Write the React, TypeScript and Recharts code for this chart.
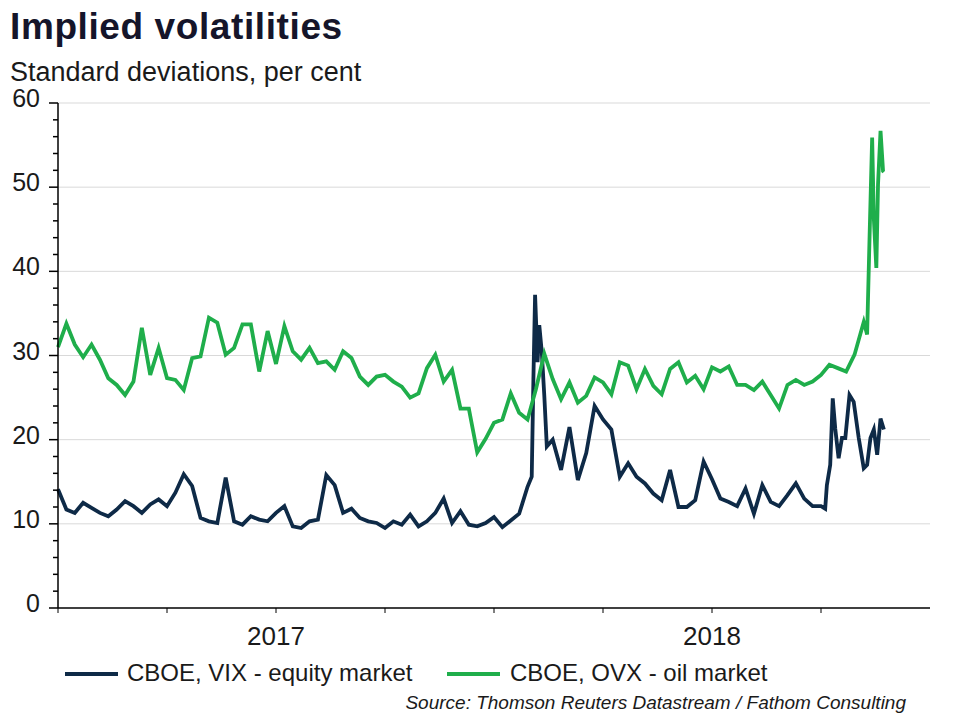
import React from 'react';
import { LineChart, Line, XAxis, YAxis, CartesianGrid } from 'recharts';

// x values are weeks since the start of 2017; the axis spans two years (104 weeks)
const vixWeeks = [
  0, 1, 2, 3, 4, 5, 6, 7, 8, 9, 10, 11, 12, 13, 14, 15, 16, 17, 18, 19, 20,
  21, 22, 23, 24, 25, 26, 27, 28, 29, 30, 31, 32, 33, 34, 35, 36, 37, 38, 39, 40,
  41, 42, 43, 44, 45, 46, 47, 48, 49, 50, 51, 52, 53, 54, 55, 56, 56.5, 56.7, 56.9,
  57.2, 57.4, 57.7, 58, 58.3, 59, 60, 61, 62, 63, 64, 65, 66, 67, 68, 69, 70, 71, 72,
  73, 74, 75, 76, 77, 78, 79, 80, 81, 82, 83, 84, 85, 86, 87, 88, 89, 90, 91, 91.5,
  91.7, 92.1, 92.4, 92.7, 93.1, 93.5, 93.9, 94.4, 94.9, 95.5, 96.1, 96.5, 96.9, 97.3,
  97.7, 98.1, 98.5,
];
const vix = [
  14.1, 11.7, 11.3, 12.5, 11.9, 11.3, 10.9, 11.7, 12.7, 12.1, 11.3, 12.3, 12.9, 12.1, 13.7, 15.9, 14.5, 10.7, 10.3, 10.1, 15.5,
  10.3, 9.9, 10.9, 10.5, 10.3, 11.3, 12.1, 9.7, 9.5, 10.3, 10.5, 15.8, 14.6, 11.3, 11.8, 10.7, 10.3, 10.1, 9.5, 10.3,
  9.9, 11.1, 9.7, 10.3, 11.3, 13.0, 10.1, 11.5, 9.9, 9.7, 10.1, 10.8, 9.6, 10.4, 11.2, 14.4, 15.6, 27.2, 37.2,
  29.2, 33.6, 30.4, 25.2, 19.2, 20.0, 16.4, 21.5, 15.2, 18.4, 24.0, 22.4, 21.2, 15.6, 17.2, 15.6, 14.8, 13.6, 12.8,
  16.4, 12.0, 12.0, 12.8, 17.4, 15.3, 13.0, 12.6, 12.1, 14.2, 11.2, 14.6, 12.6, 12.1, 13.4, 14.8, 13.0, 12.1, 12.1, 11.8,
  14.6, 17.0, 24.9, 21.3, 17.8, 20.2, 20.2, 25.3, 24.5, 20.2, 16.6, 17.0, 20.2, 21.2,
  18.2, 22.5, 21.2,
];

const ovxWeeks = [
  0, 1, 2, 3, 4, 5, 6, 7, 8, 9, 10, 11, 12, 13, 14, 15, 16, 17, 18, 19, 20,
  21, 22, 23, 24, 25, 26, 27, 28, 29, 30, 31, 32, 33, 34, 35, 36, 37, 38, 39, 40,
  41, 42, 43, 44, 45, 46, 47, 48, 49, 50, 51, 52, 53, 54, 55, 56, 57, 58, 59, 60,
  61, 62, 63, 64, 65, 66, 67, 68, 69, 70, 71, 72, 73, 74, 75, 76, 77, 78, 79, 80,
  81, 82, 83, 84, 85, 86, 87, 88, 89, 90, 91, 92, 93, 94, 95, 96.1, 96.5, 96.8,
  97.1, 97.3, 97.6, 97.8, 98.1, 98.4, 98.5,
];
const ovx = [
  31.0, 33.8, 31.3, 29.8, 31.3, 29.5, 27.3, 26.5, 25.3, 26.9, 33.3, 27.7, 30.9, 27.3, 27.1, 25.9, 29.7, 29.9, 34.5, 33.9, 30.1,
  30.9, 33.7, 33.7, 28.1, 32.9, 29.0, 33.5, 30.5, 29.5, 30.9, 29.1, 29.3, 28.3, 30.5, 29.7, 27.5, 26.5, 27.5, 27.7, 26.9,
  26.3, 25.0, 25.5, 28.5, 30.1, 26.9, 28.3, 23.7, 23.7, 18.5, 20.1, 22.0, 22.4, 25.5, 23.2, 22.4, 26.0, 30.2, 27.2, 24.8,
  26.8, 24.4, 25.2, 27.4, 26.8, 25.4, 29.2, 28.8, 26.0, 28.4, 26.4, 25.4, 28.4, 29.2, 26.8, 27.6, 26.0, 28.6, 28.1, 28.7,
  26.5, 26.5, 25.9, 26.9, 25.3, 23.7, 26.5, 27.1, 26.5, 26.9, 27.7, 28.9, 28.5, 28.1, 30.1, 34.0, 32.5, 44.4,
  55.9, 46.3, 40.4, 50.3, 56.7, 51.9, 51.8,
];

const quarterTicks = [0, 13, 26, 39, 52, 65, 78, 91];
const yearLabels: Record<number, string> = { 26: '2017', 78: '2018' };
const yTicks = [0, 2, 4, 6, 8, 10, 12, 14, 16, 18, 20, 22, 24, 26, 28, 30, 32, 34, 36, 38, 40, 42, 44, 46, 48, 50, 52, 54, 56, 58, 60];
const gridValues = [10, 20, 30, 40, 50, 60];

const VIX_COLOR = '#0e2a47';
const OVX_COLOR = '#1fae4b';
const TEXT = '#1a1a1a';

const vixData = vixWeeks.map((w, i) => ({ w, v: vix[i] }));
const ovxData = ovxWeeks.map((w, i) => ({ w, v: ovx[i] }));

const YTick = (props: any) => {
  const { x, y, payload } = props;
  const major = payload.value % 10 === 0;
  return (
    <g>
      <line x1={x - (major ? 9 : 5)} x2={x} y1={y} y2={y} stroke="#000" strokeWidth={1.5} />
      {major && (
        <text x={x - 18} y={y - 5} textAnchor="end" dominantBaseline="central" fontSize={25} fill={TEXT}>
          {payload.value}
        </text>
      )}
    </g>
  );
};

export default function App() {
  return (
    <div
      style={{
        position: 'absolute',
        left: 0,
        top: 0,
        width: 960,
        height: 720,
        background: '#fff',
        fontFamily: '"Liberation Sans", Arial, sans-serif',
        color: TEXT,
      }}
    >
      <div style={{ position: 'absolute', left: 10, top: 6, fontSize: 37, fontWeight: 'bold', letterSpacing: 0.6, color: '#15152a' }}>
        Implied volatilities
      </div>
      <div style={{ position: 'absolute', left: 10, top: 57, fontSize: 27 }}>Standard deviations, per cent</div>

      <LineChart width={960} height={720} data={vixData} margin={{ top: 103, right: 30, left: 0, bottom: 82 }}>
        <CartesianGrid horizontal vertical={false} horizontalValues={gridValues} stroke="#d9d9d9" strokeWidth={1} />
        <XAxis
          dataKey="w"
          type="number"
          domain={[0, 104]}
          ticks={quarterTicks}
          tickFormatter={(v: number) => yearLabels[v] ?? ''}
          interval={0}
          height={30}
          tickSize={5}
          tickMargin={14}
          tick={{ fontSize: 26, fill: TEXT }}
          axisLine={{ stroke: '#000', strokeWidth: 1.5 }}
          tickLine={{ stroke: '#000' }}
        />
        <YAxis
          type="number"
          domain={[0, 60]}
          ticks={yTicks}
          interval={0}
          width={58}
          tickSize={0}
          tickMargin={0}
          tickLine={false}
          tick={<YTick />}
          axisLine={{ stroke: '#000', strokeWidth: 1.5 }}
        />
        <Line
          data={vixData}
          dataKey="v"
          type="linear"
          stroke={VIX_COLOR}
          strokeWidth={3.8}
          dot={false}
          isAnimationActive={false}
        />
        <Line
          data={ovxData}
          dataKey="v"
          type="linear"
          stroke={OVX_COLOR}
          strokeWidth={3.8}
          dot={false}
          isAnimationActive={false}
        />
      </LineChart>

      <div style={{ position: 'absolute', left: 65, top: 672, width: 53, height: 4, background: VIX_COLOR }} />
      <div style={{ position: 'absolute', left: 127, top: 659, fontSize: 24, lineHeight: '28px' }}>CBOE, VIX - equity market</div>
      <div style={{ position: 'absolute', left: 447, top: 672, width: 53, height: 4, background: OVX_COLOR }} />
      <div style={{ position: 'absolute', left: 510, top: 659, fontSize: 24, lineHeight: '28px' }}>CBOE, OVX - oil market</div>
      <div
        style={{
          position: 'absolute',
          right: 54,
          top: 692,
          fontSize: 19,
          fontStyle: 'italic',
          lineHeight: '22px',
        }}
      >
        Source: Thomson Reuters Datastream / Fathom Consulting
      </div>
    </div>
  );
}
